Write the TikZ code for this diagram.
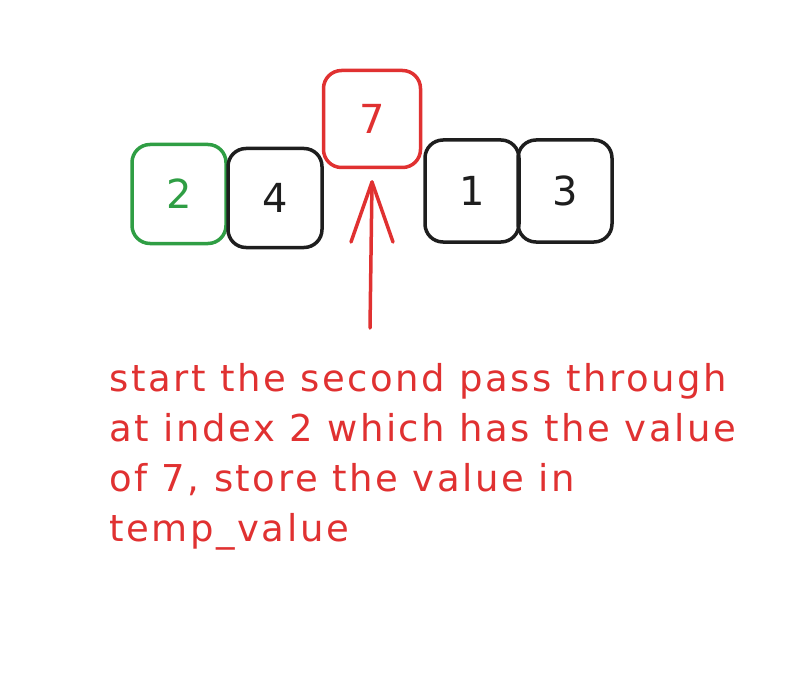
\documentclass[tikz,border=0pt]{standalone}
\usepackage{xcolor}
\usepackage{fontspec}
\setmainfont{DejaVu Sans}
\definecolor{exred}{HTML}{E03131}
\definecolor{exgreen}{HTML}{2F9E44}
\definecolor{exblack}{HTML}{1E1E1E}
\tikzset{cell/.style = {draw, line width=3.5pt, rounded corners=18pt, minimum width=94pt, minimum height=99pt, font=\fontsize{40}{40}\selectfont}}
\begin{document}
\begin{tikzpicture}[x=1pt, y=-1pt]
                        \useasboundingbox (0,0) rectangle (812,674);
                        \node (two) [cell, exgreen, text=exgreen] at (179,194) {2};
                        \node (four) [cell, exblack, text=exblack] at (275,198) {4};
                        \node (seven) [cell, exred, text=exred, minimum width=97pt, minimum height=97pt] at (372,119) {7};
                        \node (one) [cell, exblack, text=exblack, minimum height=102pt] at (472,191) {1};
                        \node (three) [cell, exblack, text=exblack, minimum height=102pt] at (565,191) {3};

                        \coordinate (tail) at (370,328);
                        \coordinate (tip) at (372,182);
                        \draw [exred, line width=3.5pt, line cap=round] (tail) -- (tip);
                        \draw [exred, line width=3.5pt, line cap=round, line join=round] (351,242) -- (tip) -- (393,242);

                        \node (note) [anchor=north west, text=exred, align=left, font=\fontsize{37}{50}\selectfont\addfontfeature{LetterSpace=7}, inner sep=0pt] at (109,363) {start the second pass through\\at index 2 which has the value\\of 7, store the value in\\temp\_value};
                    \end{tikzpicture}
\end{document}
